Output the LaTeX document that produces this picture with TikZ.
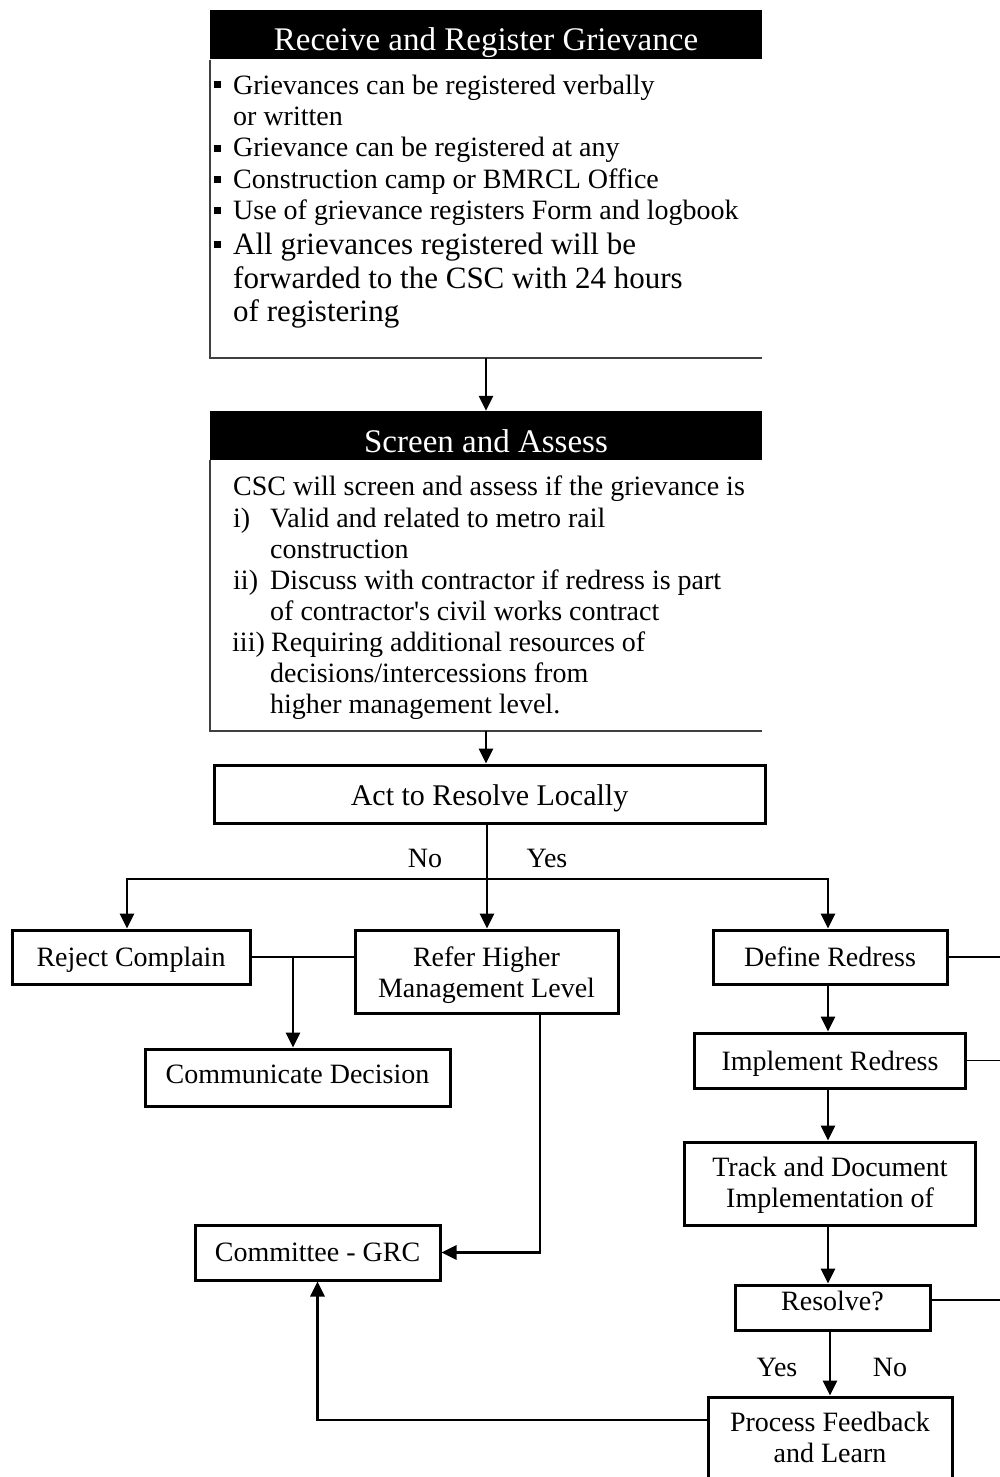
\documentclass[tikz,border=0pt]{standalone}
\usepackage{fontspec}
\setmainfont{Liberation Serif}
\usetikzlibrary{arrows.meta}
\newcommand{\shiftt}[2]{\raisebox{#1}[\height][\depth]{#2}}
\newcommand{\twol}[3]{\raisebox{#1}[\height][\depth]{\begin{tabular}{@{}c@{}}#2\\#3\end{tabular}}}
\begin{document}
\begin{tikzpicture}[x=1pt,y=-1pt,
  box/.style={draw,line width=3pt,inner sep=0pt,align=center,font=\fontsize{28}{31}\selectfont},
  hdr/.style={fill=black,text=white,inner sep=0pt,minimum width=552pt,minimum height=49pt,font=\fontsize{33}{36}\selectfont},
  txt/.style={anchor=base west,inner sep=0pt,font=\fontsize{28}{31}\selectfont},
  bigtxt/.style={anchor=base west,inner sep=0pt,font=\fontsize{31}{34}\selectfont},
  lbl/.style={inner sep=0pt,font=\fontsize{28}{31}\selectfont},
  arr/.style={-{Triangle[length=15pt,width=14pt]},line width=2.8pt},
  ln/.style={line width=2.8pt},
  frame/.style={draw=black!75,line width=1.6pt},
  thinln/.style={line width=1.4pt},
  bul/.style={fill=black}
]
\useasboundingbox (0,0) rectangle (1000,1477);

% ---------- Box 1 ----------
\node[hdr] (h1) at (486,35) {\shiftt{-8pt}{Receive and Register Grievance}};
\coordinate (b1tl) at (210,60);
\coordinate (b1bl) at (210,358);
\coordinate (b1br) at (762,358);
\coordinate (b1bot) at (486,358);
\draw[frame] (b1tl) -- (b1bl) -- (b1br);
\foreach \yy in {85,148,179,210,244} {\fill[bul] (214,\yy-3.5) rectangle (221,\yy+3.5);}
\node[txt] (t11) at (233,95) {Grievances can be registered verbally};
\node[txt] (t12) at (233,125) {or written};
\node[txt] (t13) at (233,157) {Grievance can be registered at any};
\node[txt] (t14) at (233,188) {Construction camp or BMRCL Office};
\node[txt] (t15) at (233,219) {Use of grievance registers Form and logbook};
\node[bigtxt] (t16) at (233,254) {All grievances registered will be};
\node[bigtxt] (t17) at (233,288) {forwarded to the CSC with 24 hours};
\node[bigtxt] (t18) at (233,321) {of registering};

% ---------- Box 2 ----------
\node[hdr] (h2) at (486,435.5) {\shiftt{-6pt}{Screen and Assess}};
\coordinate (b2tl) at (210,460);
\coordinate (b2bl) at (210,731);
\coordinate (b2br) at (762,731);
\coordinate (b2bot) at (486,731);
\draw[frame] (b2tl) -- (b2bl) -- (b2br);
\node[txt] (t21) at (233,495) {CSC will screen and assess if the grievance is};
\node[txt] (t22) at (233,527) {i)};
\node[txt] (t22b) at (270,527) {Valid and related to metro rail};
\node[txt] (t23) at (270,558) {construction};
\node[txt] (t24) at (233,589) {ii)};
\node[txt] (t24b) at (270,589) {Discuss with contractor if redress is part};
\node[txt] (t25) at (270,620) {of contractor\textquotesingle s civil works contract};
\node[txt] (t26) at (232,651) {iii)};
\node[txt] (t26b) at (271,651) {Requiring additional resources of};
\node[txt] (t27) at (270,682) {decisions/intercessions from};
\node[txt] (t28) at (270,713) {higher management level.};

\draw[arr] (b1bot) -- (h2.north);

% ---------- Flow boxes ----------
\node[box,minimum width=551pt,minimum height=58pt,font=\fontsize{30}{33}\selectfont] (act) at (489.5,794) {\shiftt{-4pt}{Act to Resolve Locally}};
\draw[arr] (b2bot) -- (act.north -| b2bot);

\node[box,minimum width=238pt,minimum height=54pt] (reject) at (131,957) {\shiftt{-3pt}{Reject Complain}};
\node[box,minimum width=263pt,minimum height=83pt] (refer) at (486.5,971.5) {\twol{-4pt}{Refer Higher}{Management Level}};
\node[box,minimum width=305pt,minimum height=57pt] (comm) at (297.5,1077.5) {\shiftt{3pt}{Communicate Decision}};
\node[box,minimum width=245pt,minimum height=55pt] (grc) at (317.5,1252.5) {Committee - GRC};

\node[box,minimum width=234pt,minimum height=54pt] (define) at (830,957) {Define Redress};
\node[box,minimum width=271pt,minimum height=55pt] (impl) at (830,1060.5) {\shiftt{-3pt}{Implement Redress}};
\node[box,minimum width=291pt,minimum height=83pt] (track) at (830,1183.5) {\twol{-2pt}{Track and Document}{Implementation of}};
\node[box,minimum width=195pt,minimum height=45pt] (resolve) at (832.5,1307.5) {\shiftt{7pt}{Resolve?}};
\node[box,minimum width=244pt,minimum height=90pt] (proc) at (830,1442) {\twol{1pt}{Process Feedback}{and Learn}};

% labels
\node[lbl] (no1) at (425,858) {No};
\node[lbl] (yes1) at (547,858) {Yes};
\node[lbl] (yes2) at (777,1367) {Yes};
\node[lbl] (no2) at (890,1367) {No};

% ---------- Connectors ----------
\coordinate (split) at (487,879);
\coordinate (edge) at (1000,0);
\draw[arr] (act.south -| split) -- (refer.north -| split);
\draw[arr] (split) -| ([xshift=-4pt]reject.north);
\draw[arr] (split) -| ([xshift=-2pt]define.north);

\coordinate (jn) at (293,957);
\draw[ln] (reject.east) -- (reject.east -| refer.west);
\draw[arr] (jn) -- (jn |- comm.north);

\coordinate (rdown) at (540,0);
\draw[arr] (refer.south -| rdown) |- (grc.east);

\coordinate (pl) at (0,1420);
\draw[arr] (proc.west |- pl) -| (grc.south);

\draw[arr] ([xshift=-2pt]define.south) -- ([xshift=-2pt]impl.north);
\draw[arr] ([xshift=-2pt]impl.south) -- ([xshift=-2pt]track.north);
\draw[arr] ([xshift=-2pt]track.south) -- ([xshift=-2pt]track.south |- resolve.north);
\draw[arr] ([xshift=-2.5pt]resolve.south) -- ([xshift=-2.5pt]resolve.south |- proc.north);

\draw[thinln] (define.east) -- (define.east -| edge);
\draw[thinln] (impl.east) -- (impl.east -| edge);
\coordinate (rs) at (0,1300);
\draw[thinln] (resolve.east |- rs) -- (edge |- rs);
\end{tikzpicture}
\end{document}
